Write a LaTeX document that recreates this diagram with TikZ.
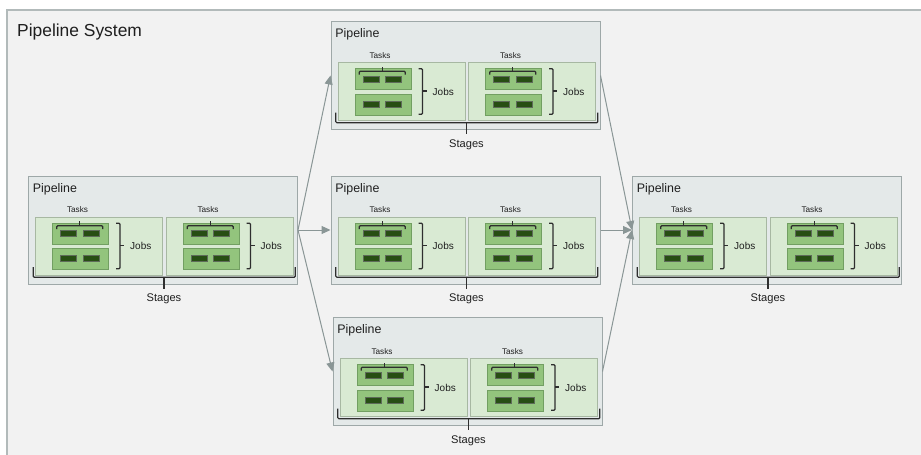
\documentclass[tikz,border=0pt]{standalone}
\usepackage{fontspec}
\setmainfont{Liberation Sans}
\usetikzlibrary{arrows.meta}

\definecolor{pagebg}{HTML}{FFFFFF}
\definecolor{framefill}{HTML}{F2F2F2}
\definecolor{frameline}{HTML}{B2BABA}
\definecolor{pipefill}{HTML}{E4E9E9}
\definecolor{pipeline}{HTML}{9EA8A8}
\definecolor{stagefill}{HTML}{D9EAD3}
\definecolor{stageline}{HTML}{A7B8A2}
\definecolor{jobfill}{HTML}{93C47D}
\definecolor{jobline}{HTML}{729F62}
\definecolor{taskfill}{HTML}{274E13}
\definecolor{taskline}{HTML}{5E6B5A}
\definecolor{bracecol}{HTML}{2E2E2E}
\definecolor{flowcol}{HTML}{8A9696}
\definecolor{textcol}{HTML}{1F1F1F}

\tikzset{
  pipe/.style={draw=pipeline, fill=pipefill, line width=1pt, inner sep=0pt,
    minimum width=269pt, minimum height=108pt, anchor=north west},
  stagebox/.style={draw=stageline, fill=stagefill, line width=0.9pt, inner sep=0pt,
    minimum width=127pt, minimum height=58pt, anchor=north west},
  jobbox/.style={draw=jobline, fill=jobfill, line width=0.9pt, inner sep=0pt,
    minimum width=56pt, minimum height=21pt, anchor=north west},
  taskbar/.style={draw=taskline, fill=taskfill, line width=0.7pt, inner sep=0pt,
    minimum width=16pt, minimum height=6pt},
  brk/.style={draw=bracecol, line width=1.2pt, rounded corners=1pt},
  title/.style={text=textcol, inner sep=0pt, anchor=base west, font=\fontsize{17.4}{20}\selectfont},
  pipelabel/.style={text=textcol, inner sep=0pt, anchor=base west, font=\fontsize{12.4}{14}\selectfont},
  tasklabel/.style={text=textcol, inner sep=0pt, anchor=base, font=\fontsize{8.2}{10}\selectfont},
  joblabel/.style={text=textcol, inner sep=0pt, anchor=base west, font=\fontsize{10}{12}\selectfont},
  stagelabel/.style={text=textcol, inner sep=0pt, anchor=base, font=\fontsize{11.1}{13}\selectfont},
  flow/.style={draw=flowcol, line width=1pt, -{Triangle[length=9pt,width=8pt]}}
}

% one stage: name, horizontal offset inside its pipeline
\newcommand\stageunit[2]{%
  \node[stagebox] (#1) at (#2,41) {};
  \node[jobbox] (#1-j1) at (#2+17,47) {};
  \node[jobbox] (#1-j2) at (#2+17,72.5) {};
  \node[taskbar] (#1-j1a) at (#2+33.7,58.3) {};
  \node[taskbar] (#1-j1b) at (#2+56.3,58.3) {};
  \node[taskbar] (#1-j2a) at (#2+33.7,83.3) {};
  \node[taskbar] (#1-j2b) at (#2+56.3,83.3) {};
  % bracket grouping the tasks of the first job
  \draw[brk] (#2+21.7,53.5) -- (#2+21.7,50.3) -- (#2+67.8,50.3) -- (#2+67.8,53.5);
  \draw[brk, rounded corners=0pt] (#2+44.8,50.3) -- (#2+44.8,45.5);
  \node[tasklabel] (#1-tasks) at (#2+42.5,37.2) {Tasks};
  % bracket grouping the jobs
  \draw[brk] (#2+81,47.7) -- (#2+85,47.7) -- (#2+85,93.3) -- (#2+81,93.3);
  \draw[brk, rounded corners=0pt] (#2+85,70) -- (#2+89,70);
  \node[joblabel] (#1-jobs) at (#2+95,74) {Jobs};
}

% one pipeline: name, top-left x, top-left y
\newcommand\pipelineunit[3]{%
  \begin{scope}[shift={(#2,#3)}]
    \node[pipe] (#1) at (0,0) {};
    \node[pipelabel] (#1-title) at (4.7,16.7) {Pipeline};
    \stageunit{#1-s1}{7}
    \stageunit{#1-s2}{137.5}
    % bracket grouping the stages
    \draw[brk] (5.3,91.7) -- (5.3,101.7) -- (267.3,101.7) -- (267.3,91.7);
    \draw[brk, rounded corners=0pt] (136,101.7) -- (136,113);
    \node[stagelabel] (#1-stages) at (136,126) {Stages};
  \end{scope}
}

\begin{document}
\begin{tikzpicture}[x=1pt, y=-1pt]
  \useasboundingbox (0,0) rectangle (921,455);
  \fill[pagebg] (0,0) rectangle (921,455);
  \begin{scope}
    \clip (0,0) rectangle (921,455);
    \draw[frameline, fill=framefill, line width=1.2pt] (7,10) rectangle (935,470);
  \end{scope}
  \node[title] (systitle) at (17,36.7) {Pipeline System};

  \pipelineunit{pa}{28}{175.5}
  \pipelineunit{pb}{330.5}{21}
  \pipelineunit{pc}{330.5}{175.5}
  \pipelineunit{pd}{332.5}{317}
  \pipelineunit{pe}{632}{175.5}

  \draw[flow] (pa.east) -- (pb.west);
  \draw[flow] (pa.east) -- (pc.west);
  \draw[flow] (pa.east) -- (pd.west);
  \draw[flow] (pb.east) -- (pe.west);
  \draw[flow] (pc.east) -- (pe.west);
  \draw[flow] (pd.east) -- (pe.west);
\end{tikzpicture}
\end{document}
